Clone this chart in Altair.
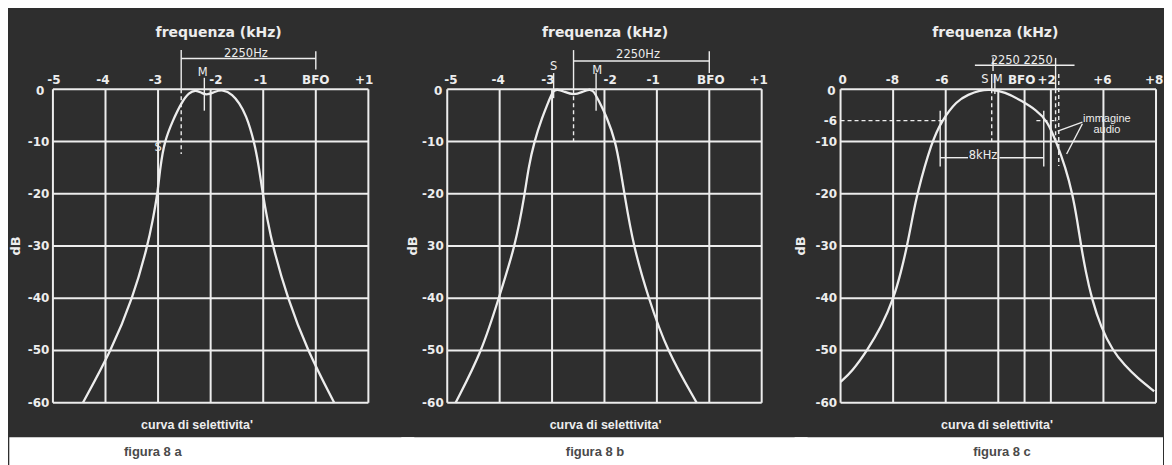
import altair as alt
import pandas as pd

BG = "#2e2e2e"
FG = "#ededed"
CAP = "#4a4a4a"
FONT_D = "DejaVu Sans"
FONT_B = "Liberation Sans"

W_A, W_B, W_C = 316, 315, 316
H = 314
GAP = 79

# ---------------- panel a : x in kHz from BFO, y in dB ----------------
A_CURVE_KHZ = [-4.43, -3.89, -3.48, -3.20, -3.10, -3.01, -2.96, -2.88, -2.72, -2.56, -2.41,
               -2.28, -2.16, -2.06, -1.93, -1.77, -1.58, -1.46, -1.33, -1.17, -1.08, -1.01,
               -0.92, -0.82, -0.54, -0.16, 0.35]
A_CURVE_DB = [-60, -50, -40, -30, -25, -20, -15, -10, -6, -2.6, -0.6,
              -0.1, -0.8, -1.1, -0.5, 0, -1, -2.6, -4.8, -10, -15, -20,
              -25, -30, -40, -50, -60]
A_X_TICKS = [-5, -4, -3, -2, -1, 0, 1]
A_X_LABEL_POS = [-4.98, -4.05, -3.05, -1.9, -1.05, 0, 0.92]
A_X_LABELS = ["-5", "-4", "-3", "-2", "-1", "BFO", "+1"]
A_Y_TICKS = [0, -10, -20, -30, -40, -50, -60]
A_Y_LABELS = ["0", "-10", "-20", "-30", "-40", "-50", "-60"]
# annotation segments: x1, x2, y1, y2
A_SOLID = [(-2.56, 0.0, 5.9, 5.9), (-2.56, -2.56, 7.5, 0.0), (0.0, 0.0, 7.3, 3.8),
           (-2.12, -2.12, 2.2, -4.1)]
A_DASHED = [(-2.56, -2.56, 0.0, -12.4)]
A_NOTES = [("2250Hz", -1.33, 6.8), ("M", -2.15, 3.2), ("S", -3.0, -11.2)]
A_CAPTION = ("curva di selettivita'", -2.26, -64.3)
A_FIGURE = ("figura 8 a", -3.1, -69.5)

# ---------------- panel b ----------------
B_CURVE_KHZ = [-4.84, -4.33, -4.02, -3.70, -3.52, -3.45, -3.34, -3.19, -3.06, -2.98, -2.90,
               -2.78, -2.59, -2.40, -2.29, -2.21, -2.11, -1.95, -1.79, -1.70, -1.62, -1.45,
               -1.16, -0.81, -0.24]
B_CURVE_DB = [-60, -50, -40, -30, -20, -15, -10, -5.4, -2.2, -0.2, 0,
              -0.4, -1.2, -0.4, 0, -0.2, -2.2, -5.4, -10, -15, -20, -30,
              -40, -50, -60]
B_X_TICKS = [-5, -4, -3, -2, -1, 0, 1]
B_X_LABEL_POS = [-4.93, -4.03, -3.08, -1.89, -1.07, 0.03, 0.94]
B_X_LABELS = ["-5", "-4", "-3", "-2", "-1", "BFO", "+1"]
B_Y_TICKS = [0, -10, -20, -30, -40, -50, -60]
B_Y_LABELS = ["0", "-10", "-20", "30", "-40", "-50", "-60"]
B_SOLID = [(-2.59, 0.0, 5.4, 5.4), (-2.59, -2.59, 7.5, 0.0), (0.0, 0.0, 7.3, 3.1),
           (-2.97, -2.97, 3.1, -1.7), (-2.16, -2.16, 3.1, -4.1)]
B_DASHED = [(-2.59, -2.59, 0.0, -9.9)]
B_NOTES = [("2250Hz", -1.36, 6.5), ("S", -2.97, 4.3), ("M", -2.14, 3.5)]
B_CAPTION = ("curva di selettivita'", -1.98, -64.3)
B_FIGURE = ("figura 8 b", -2.18, -69.5)

# ---------------- panel c : x in grid half-steps ----------------
C_CURVE_U = [0, 0.44, 1.01, 1.55, 2.02, 2.30, 2.53, 2.72, 2.91, 3.47, 3.85, 4.42, 4.86, 5.3, 5.68,
             6.25, 6.88, 7.45, 7.86, 8.2, 8.56, 8.82, 9.0, 9.15, 9.33, 9.55, 9.90, 10.35, 10.8,
             11.3, 11.93]
C_CURVE_DB = [-56, -54, -50, -45.5, -40, -35, -30, -25, -20, -10, -6, -2.2, -1, -0.2, 0,
              -0.5, -2.2, -4, -6, -10, -15, -20, -25, -30, -35, -40, -45.5, -50, -52.8,
              -55.3, -57.8]
C_X_TICKS = [0, 2, 4, 6, 7, 8, 10, 12]
C_X_LABEL_POS = [0.08, 1.97, 3.86, 6, 6.89, 7.84, 9.96, 11.93]
C_X_LABELS = ["0", "-8", "-6", "", "BFO", "+2", "+6", "+8"]
C_Y_TICKS = [0, -6, -10, -20, -30, -40, -50, -60]
C_Y_LABELS = ["0", "-6", "-10", "-20", "-30", "-40", "-50", "-60"]
C_GRID_Y = [0, -10, -20, -30, -40, -50, -60]
C_SOLID = [(5.11, 8.90, 4.6, 4.6), (5.80, 5.80, 6.1, 3.5), (5.75, 5.75, 2.9, 0.0),
           (5.87, 5.87, 2.9, -0.9), (8.18, 8.18, 6.0, 0.0),
           (3.79, 4.85, -13.1, -13.1), (6.05, 7.73, -13.1, -13.1),
           (3.79, 3.79, -4.1, -14.8), (7.73, 7.73, -4.1, -14.8),
           (9.2, 8.26, -6.3, -8.0), (9.2, 8.6, -6.6, -12.4)]
C_DASHED = [(5.75, 5.75, 0.0, -10.0), (8.18, 8.18, 0.0, -9.8), (8.30, 8.30, 2.9, -14.7),
            (0.0, 4.02, -6.0, -6.0), (7.45, 8.26, -6.0, -6.0)]
C_NOTES = [("2250 2250", 6.89, 5.5), ("S", 5.49, 1.8), ("M", 5.98, 1.8), ("8kHz", 5.42, -12.8)]
C_SMALL_NOTES = [("immagine", 10.13, -5.7), ("audio", 10.13, -7.8)]
C_CAPTION = ("curva di selettivita'", 5.95, -64.3)
C_FIGURE = ("figura 8 c", 6.14, -69.5)

X_TITLE = "frequenza (kHz)"
Y_TITLE = "dB"


def seg_df(segs):
    return pd.DataFrame({"x1": [s[0] for s in segs], "x2": [s[1] for s in segs],
                         "y1": [s[2] for s in segs], "y2": [s[3] for s in segs]})


def note_df(notes):
    return pd.DataFrame({"t": [n[0] for n in notes], "x": [n[1] for n in notes],
                         "y": [n[2] for n in notes]})


def panel(cx, cy, xdom, xt, xlp, xl, yt, yl, ygrid, solid, dashed, notes, small_notes, caption,
          figure, w, title_x, db_x, zero_dx, left_ext, right_ext, anchor_left, anchor_right):
    xs = alt.Scale(domain=xdom, nice=False, zero=False)
    ys = alt.Scale(domain=[-60, 0], nice=False, zero=False)

    def X(f):
        return alt.X(f, scale=xs, axis=None)

    def Y(f):
        return alt.Y(f, scale=ys, axis=None)

    one = pd.DataFrame({"k": [0]})
    layers = []
    # white strip under the dark board (for the figure captions)
    layers.append(alt.Chart(one).mark_rect(color="white").encode(
        x=alt.value(-left_ext), x2=alt.value(w + right_ext),
        y=alt.value(H + 34.7), y2=alt.value(H + 72)))
    if anchor_left:
        layers.append(alt.Chart(one).mark_rect(opacity=0).encode(
            x=alt.value(-43.7), x2=alt.value(0), y=alt.value(-80.3), y2=alt.value(0)))
    if anchor_right:
        layers.append(alt.Chart(one).mark_rect(opacity=0).encode(
            x=alt.value(w), x2=alt.value(w + 7), y=alt.value(-80.3), y2=alt.value(0)))

    # grid
    vg = pd.DataFrame({"gx": xt, "y0": [0] * len(xt), "y1": [-60] * len(xt)})
    layers.append(alt.Chart(vg).mark_rule(color=FG, strokeWidth=2).encode(
        x=X("gx:Q"), y=Y("y0:Q"), y2="y1:Q"))
    hg = pd.DataFrame({"gy": ygrid, "x0": [xdom[0]] * len(ygrid), "x1": [xdom[1]] * len(ygrid)})
    layers.append(alt.Chart(hg).mark_rule(color=FG, strokeWidth=2).encode(
        y=Y("gy:Q"), x=X("x0:Q"), x2="x1:Q"))

    # tick labels
    xld = pd.DataFrame({"v": xlp, "t": xl})
    layers.append(alt.Chart(xld).mark_text(color=FG, font=FONT_D, fontSize=12, fontWeight="bold",
                                           align="center", baseline="alphabetic").encode(
        x=X("v:Q"), y=alt.value(-5), text="t:N"))
    yld = pd.DataFrame({"v": yt[1:], "t": yl[1:]})
    layers.append(alt.Chart(yld).mark_text(color=FG, font=FONT_D, fontSize=12, fontWeight="bold",
                                           align="right", baseline="middle").encode(
        y=Y("v:Q"), x=alt.value(-3.5), text="t:N"))
    y0d = pd.DataFrame({"v": yt[:1], "t": yl[:1]})
    layers.append(alt.Chart(y0d).mark_text(color=FG, font=FONT_D, fontSize=12, fontWeight="bold",
                                           align="right", baseline="middle", dy=2).encode(
        y=Y("v:Q"), x=alt.value(zero_dx), text="t:N"))
    # axis titles
    layers.append(alt.Chart(pd.DataFrame({"t": [X_TITLE]})).mark_text(
        color=FG, font=FONT_D, fontSize=14, fontWeight="bold", baseline="middle").encode(
        x=alt.value(title_x), y=alt.value(-56), text="t:N"))
    layers.append(alt.Chart(pd.DataFrame({"t": [Y_TITLE]})).mark_text(
        color=FG, font=FONT_D, fontSize=13, fontWeight="bold", baseline="middle", angle=270).encode(
        x=alt.value(db_x), y=alt.value(H / 2), text="t:N"))

    # selectivity curve
    curve = pd.DataFrame({"x": cx, "y": cy})
    layers.append(alt.Chart(curve).mark_line(color=FG, strokeWidth=2.3, interpolate="basis").encode(
        x=X("x:Q"), y=Y("y:Q")))

    # annotations
    layers.append(alt.Chart(seg_df(solid)).mark_rule(color=FG, strokeWidth=1.4).encode(
        x=X("x1:Q"), x2="x2:Q", y=Y("y1:Q"), y2="y2:Q"))
    layers.append(alt.Chart(seg_df(dashed)).mark_rule(color=FG, strokeWidth=1.4, strokeDash=[4, 3]).encode(
        x=X("x1:Q"), x2="x2:Q", y=Y("y1:Q"), y2="y2:Q"))
    layers.append(alt.Chart(note_df(notes)).mark_text(color=FG, font=FONT_D, fontSize=11.5,
                                                      baseline="middle").encode(
        x=X("x:Q"), y=Y("y:Q"), text="t:N"))
    if small_notes:
        layers.append(alt.Chart(note_df(small_notes)).mark_text(color=FG, font=FONT_B, fontSize=11,
                                                                baseline="middle").encode(
            x=X("x:Q"), y=Y("y:Q"), text="t:N"))

    layers.append(alt.Chart(note_df([caption])).mark_text(color=FG, font=FONT_B, fontSize=12.5,
                                                          fontWeight="bold", baseline="middle").encode(
        x=X("x:Q"), y=Y("y:Q"), text="t:N"))
    layers.append(alt.Chart(note_df([figure])).mark_text(color=CAP, font=FONT_B, fontSize=13,
                                                         fontWeight="bold", baseline="middle").encode(
        x=X("x:Q"), y=Y("y:Q"), text="t:N"))

    return alt.layer(*layers).properties(width=w, height=H)


pa = panel(A_CURVE_KHZ, A_CURVE_DB, [-5, 1], A_X_TICKS, A_X_LABEL_POS, A_X_LABELS, A_Y_TICKS,
           A_Y_LABELS, A_Y_TICKS, A_SOLID, A_DASHED, A_NOTES, [], A_CAPTION, A_FIGURE,
           W_A, 166, -36.7, -8.5, 43.7, 46, True, False)
pb = panel(B_CURVE_KHZ, B_CURVE_DB, [-5, 1], B_X_TICKS, B_X_LABEL_POS, B_X_LABELS, B_Y_TICKS,
           B_Y_LABELS, B_Y_TICKS, B_SOLID, B_DASHED, B_NOTES, [], B_CAPTION, B_FIGURE,
           W_B, 158, -34.7, -5, 46, 46, False, False)
pc = panel(C_CURVE_U, C_CURVE_DB, [0, 12], C_X_TICKS, C_X_LABEL_POS, C_X_LABELS, C_Y_TICKS,
           C_Y_LABELS, C_GRID_Y, C_SOLID, C_DASHED, C_NOTES, C_SMALL_NOTES, C_CAPTION, C_FIGURE,
           W_C, 155, -40, -5, 46, 7, False, True)

chart = alt.hconcat(pa, pb, pc, spacing=GAP, bounds="flush").properties(
    background=BG, padding=0
).configure_view(stroke="transparent")

chart.save("out.html", embed_options={"renderer": "svg", "actions": False})
